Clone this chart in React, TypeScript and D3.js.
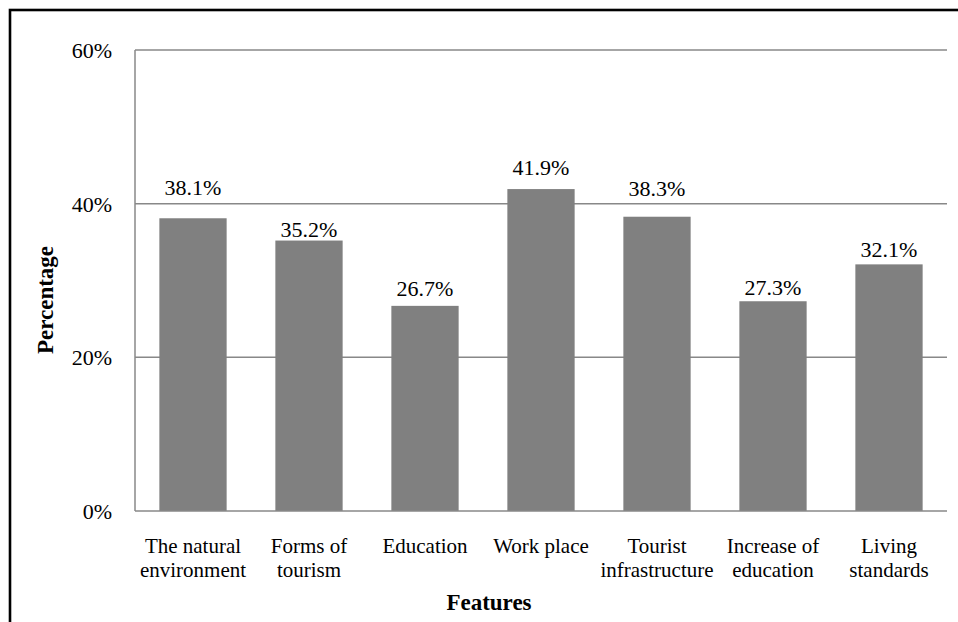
import React from "react";
import * as d3 from "d3";

const categories: string[][] = [
  ["The natural", "environment"],
  ["Forms of", "tourism"],
  ["Education"],
  ["Work place"],
  ["Tourist", "infrastructure"],
  ["Increase of", "education"],
  ["Living", "standards"],
];
const values: number[] = [38.1, 35.2, 26.7, 41.9, 38.3, 27.3, 32.1];
const valueLabels: string[] = ["38.1%", "35.2%", "26.7%", "41.9%", "38.3%", "27.3%", "32.1%"];
const yTicks: number[] = [0, 20, 40, 60];
const yTickLabels: string[] = ["0%", "20%", "40%", "60%"];
// manual label offsets above bar tops (as placed in the original)
const labelGap: number[] = [23, 4, 10, 14, 21, 6, 7];

const W = 958;
const H = 622;
const left = 135;
const right = 947;
const top = 50;
const bottom = 511;
const FONT = "Times New Roman, Liberation Serif, DejaVu Serif, serif";
const GRID = "#888888";

export default function App() {
  const x = d3
    .scaleBand<number>()
    .domain(values.map((_, i) => i))
    .range([left, right])
    .paddingInner(0.42)
    .paddingOuter(0.21);
  const y = d3.scaleLinear().domain([0, 60]).range([bottom, top]);
  const ts = { fontFamily: FONT };

  return (
    <svg
      width={W}
      height={H}
      style={{ position: "absolute", left: 0, top: 0, background: "#fff" }}
    >
      <rect x={0} y={0} width={W} height={H} fill="#fff" />
      <rect x={10} y={10} width={1200} height={1200} fill="none" stroke="#000" strokeWidth={2.6} />
      {yTicks.map((t, i) => (
        <g key={t}>
          {t > 0 && (
            <line x1={left} x2={right} y1={y(t)} y2={y(t)} stroke={GRID} strokeWidth={1.5} />
          )}
          <text x={112} y={y(t) + 8} textAnchor="end" fontSize={22} fill="#000" style={ts}>
            {yTickLabels[i]}
          </text>
        </g>
      ))}
      {values.map((v, i) => (
        <rect
          key={i}
          x={x(i)}
          y={y(v)}
          width={x.bandwidth()}
          height={y(0) - y(v)}
          fill="#808080"
        />
      ))}
      <line x1={left} x2={left} y1={top} y2={bottom} stroke={GRID} strokeWidth={1.5} />
      <line x1={left} x2={right} y1={bottom} y2={bottom} stroke={GRID} strokeWidth={1.5} />
      {values.map((v, i) => (
        <text
          key={i}
          x={(x(i) as number) + x.bandwidth() / 2}
          y={y(v) - labelGap[i]}
          textAnchor="middle"
          fontSize={22}
          fill="#000"
          style={ts}
        >
          {valueLabels[i]}
        </text>
      ))}
      {categories.map((lines, i) => (
        <text
          key={i}
          x={(x(i) as number) + x.bandwidth() / 2}
          y={553}
          textAnchor="middle"
          fontSize={21}
          fill="#000"
          style={ts}
        >
          {lines.map((l, j) => (
            <tspan key={j} x={(x(i) as number) + x.bandwidth() / 2} dy={j === 0 ? 0 : 24}>
              {l}
            </tspan>
          ))}
        </text>
      ))}
      <text x={489} y={610} textAnchor="middle" fontSize={23} fontWeight="bold" fill="#000" style={ts}>
        Features
      </text>
      <text
        transform={`translate(53,300) rotate(-90)`}
        textAnchor="middle"
        fontSize={23}
        fontWeight="bold"
        fill="#000"
        style={ts}
      >
        Percentage
      </text>
    </svg>
  );
}
